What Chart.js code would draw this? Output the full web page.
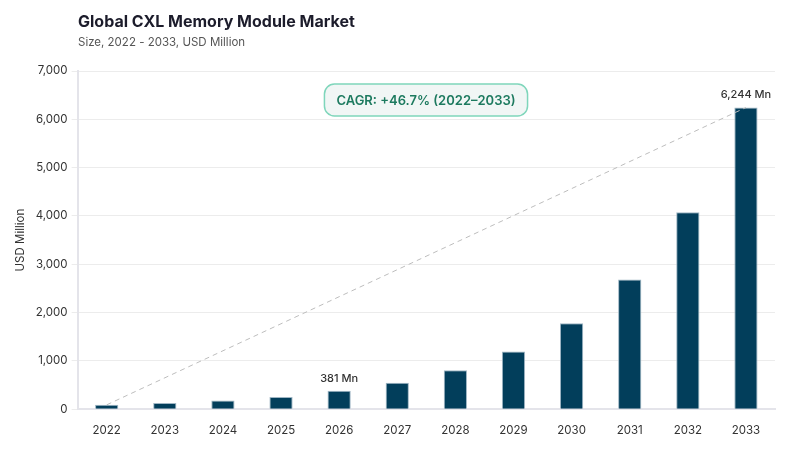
<!DOCTYPE html>
<html>
<head>
<meta charset="utf-8">
<script src="https://cdn.jsdelivr.net/npm/chart.js@4"></script>
<style>
  html, body { margin: 0; padding: 0; background: #fff; }
  #wrap { width: 800px; height: 450px; }
</style>
</head>
<body>
<div id="wrap"><canvas id="chart" width="800" height="450"></canvas></div>
<script>
const years  = ['2022', '2023', '2024', '2025', '2026', '2027', '2028', '2029', '2030', '2031', '2032', '2033'];
const values = [90, 130, 180, 255, 381, 546, 804, 1193, 1781, 2682, 4075, 6244];
const yTicks = [0, 1000, 2000, 3000, 4000, 5000, 6000, 7000];
const labelled = ['2026', '2033'];

const FONT = 'Inter, "Noto Sans", sans-serif';

const extras = {
  id: 'extras',
  afterDatasetsDraw(chart) {
    const { ctx } = chart;
    const meta = chart.getDatasetMeta(0);
    const first = meta.data[0];
    const last  = meta.data[meta.data.length - 1];

    // trend line from first bar to last bar
    ctx.save();
    ctx.strokeStyle = '#bdbdbd';
    ctx.lineWidth = 1;
    ctx.setLineDash([5, 4]);
    ctx.beginPath();
    ctx.moveTo(first.x, first.y);
    ctx.lineTo(last.x, last.y);
    ctx.stroke();
    ctx.restore();

    // value labels
    ctx.save();
    ctx.font = '500 11px ' + FONT;
    ctx.fillStyle = '#333';
    ctx.textAlign = 'center';
    ctx.textBaseline = 'bottom';
    years.forEach((y, i) => {
      if (!labelled.includes(y)) return;
      const bar = meta.data[i];
      ctx.fillText(values[i].toLocaleString('en-US') + ' Mn', bar.x, bar.y - 7);
    });
    ctx.restore();

    // CAGR badge
    const text = 'CAGR: +46.7% (2022\u20132033)';
    ctx.save();
    ctx.font = '600 13px ' + FONT;
    const w = ctx.measureText(text).width + 24;
    const h = 32;
    const cx = 426, cy = 100;
    ctx.beginPath();
    ctx.roundRect(cx - w / 2, cy - h / 2, w, h, 10);
    ctx.fillStyle = '#f1f6f5';
    ctx.fill();
    ctx.lineWidth = 1.5;
    ctx.strokeStyle = '#7fd6bb';
    ctx.stroke();
    ctx.fillStyle = '#1d7a5f';
    ctx.textAlign = 'center';
    ctx.textBaseline = 'middle';
    ctx.fillText(text, cx, cy + 1);
    ctx.restore();

    // heading
    ctx.save();
    ctx.textAlign = 'left';
    ctx.textBaseline = 'alphabetic';
    ctx.fillStyle = '#1c1c2b';
    ctx.font = '700 16px ' + FONT;
    ctx.fillText('Global CXL Memory Module Market', 78, 27);
    ctx.fillStyle = '#555';
    ctx.font = '11.5px ' + FONT;
    ctx.fillText('Size, 2022 - 2033, USD Million', 78, 46);
    ctx.restore();
  }
};

new Chart(document.getElementById('chart'), {
  type: 'bar',
  data: {
    labels: years,
    datasets: [{
      data: values,
      backgroundColor: '#023e5b',
      borderColor: '#9fb6c4',
      borderWidth: 1,
      categoryPercentage: 1,
      barPercentage: 0.4
    }]
  },
  options: {
    responsive: false,
    animation: false,
    devicePixelRatio: 1,
    layout: { padding: { top: 71, right: 25, left: 10, bottom: 7 } },
    plugins: {
      legend: { display: false },
      tooltip: { enabled: false }
    },
    scales: {
      x: {
        grid: { display: false },
        border: { color: '#e4e4ea', width: 2 },
        ticks: { color: '#333', font: { family: FONT, size: 11.5 }, padding: 6 }
      },
      y: {
        min: 0,
        max: 7000,
        afterBuildTicks: axis => { axis.ticks = yTicks.map(v => ({ value: v })); },
        grid: { color: '#ececec', drawTicks: true, tickLength: 6, tickColor: '#ececec' },
        border: { color: '#e4e4ea', width: 2 },
        ticks: {
          color: '#333',
          font: { family: FONT, size: 11.5 },
          padding: 4,
          callback: v => v.toLocaleString('en-US')
        },
        title: {
          display: true,
          text: 'USD Million',
          color: '#333',
          font: { family: FONT, size: 11.5 },
          padding: { bottom: 4 }
        }
      }
    }
  },
  plugins: [extras]
});
</script>
</body>
</html>
